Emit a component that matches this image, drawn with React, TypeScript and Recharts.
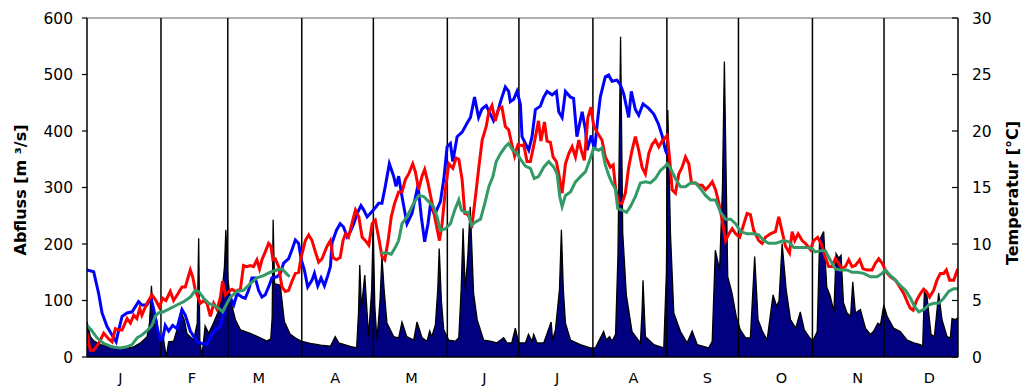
import React from 'react';
import {
  ComposedChart,
  Area,
  Line,
  XAxis,
  YAxis,
  ReferenceLine,
} from 'recharts';

// Tagesabfluss [m³/s] als [Tag, Wert]
const abfluss: [number, number][] = [
  [0, 62], [1.4, 36], [3, 28], [5.6, 22], [9.8, 18], [15.4, 15], [19.6, 18], [22.4, 25], [25.2, 36], [26.2, 60],
  [27, 126], [28, 55], [29.3, 64], [30.4, 28], [32, 34], [33.2, 0], [34.2, 27], [36.3, 28], [37.7, 48], [39.4, 80],
  [40.8, 65], [41.9, 41], [44.7, 30], [46.2, 60], [46.8, 210], [47.3, 27], [48.2, 2], [49.5, 55], [51, 42], [53, 60],
  [55, 80], [56.5, 110], [57.6, 160], [58.2, 225], [59, 140], [60.1, 101], [62.2, 66], [64.3, 48], [68.4, 42], [72.6, 34],
  [75.4, 28], [77, 32], [77.6, 70], [78, 243], [78.6, 130], [81, 127], [82.7, 63], [85.2, 40], [88, 32], [89.7, 28],
  [93.6, 24], [98, 21], [102, 19], [104, 36], [105.5, 25], [110.3, 19], [113, 16], [113.8, 80], [114.3, 163], [115, 86],
  [116.4, 145], [118, 36], [119.3, 120], [119.9, 231], [120.6, 90], [121.5, 30], [122.8, 100], [123.6, 178], [124.5, 120], [125.7, 60],
  [128.5, 36], [130.6, 34], [132, 62], [134, 36], [136.9, 30], [138.3, 62], [140.4, 34], [142.5, 28], [143.6, 46], [144.5, 36],
  [146, 57], [147, 120], [147.6, 192], [148.5, 100], [149.5, 48], [151.6, 30], [154.4, 28], [155.8, 34], [156.8, 120], [157.6, 228],
  [158.5, 119], [159.6, 180], [160.6, 266], [162, 113], [163.5, 66], [166.2, 30], [169, 28], [171.8, 25], [174.6, 34], [176, 25],
  [178, 25], [179.5, 51], [180.9, 25], [183.7, 25], [185, 40], [186.5, 28], [187.2, 40], [188.6, 25], [191.4, 25], [194.5, 62],
  [195.1, 30], [196.3, 48], [198, 120], [198.8, 225], [199.6, 120], [200.5, 60], [202.6, 30], [206.7, 22], [210.9, 16], [213, 16],
  [216.5, 45], [217.6, 30], [219, 36], [220, 28], [221.5, 40], [222.5, 180], [223.6, 567], [224.5, 220], [226, 110], [228.4, 45],
  [231.9, 25], [232.6, 80], [233, 136], [234, 36], [237.5, 22], [241.7, 16], [242.8, 150], [243.4, 437], [244.5, 219], [245.9, 78],
  [248.7, 45], [251.5, 25], [253.6, 46], [255.7, 22], [260.5, 16], [262, 28], [263.3, 189], [265.1, 154], [266.3, 300], [267.1, 523],
  [268.5, 142], [270.3, 113], [272.1, 71], [273.8, 48], [276, 34], [278, 34], [279.8, 178], [281.2, 66], [283, 46], [285, 30],
  [287.5, 110], [289, 90], [290, 99], [291.3, 201], [293, 119], [294.8, 66], [297, 51], [298.9, 80], [300.6, 48], [302.5, 36],
  [304.1, 28], [306, 45], [307, 207], [308.7, 222], [310, 124], [311.5, 107], [313, 80], [313.9, 183], [315, 175], [316, 180],
  [317, 96], [318.5, 78], [320, 72], [320.9, 133], [322, 78], [324.1, 84], [326.2, 51], [328.3, 40], [329.7, 46], [331.4, 60],
  [332.5, 57], [333.9, 92], [335.3, 72], [338, 51], [340.8, 45], [343.7, 30], [346.5, 25], [349.2, 22], [350.2, 19], [350.9, 116],
  [352, 107], [353.7, 40], [355.1, 36], [356.9, 113], [358.3, 66], [360.4, 36], [361.8, 34], [362.5, 68], [363.9, 66], [365, 70],
];

// Temperatur [°C], blaue Kurve
const tempBlau: [number, number][] = [
  [0, 7.7], [2.8, 7.55], [4.9, 5.6], [6.3, 3.9], [8.4, 2.7], [10.5, 1.95], [12.2, 1.35], [13.3, 2.4], [14.7, 3.6], [16.8, 3.9],
  [18.9, 4.0], [21.6, 4.9], [23, 4.6], [25.1, 4.6], [26.8, 5.2], [28, 4.2], [29.3, 2.7], [30.7, 1.5], [31.7, 1.6], [32.8, 2.8],
  [34.2, 2.3], [35.9, 2.8], [37.7, 2.5], [39.8, 4.2], [41.2, 3.7], [43.3, 2.3], [46.1, 1.35], [48.2, 1.2], [50.3, 1.1], [52.1, 1.95],
  [53.8, 2.4], [55.9, 2.7], [57.3, 3.9], [58.7, 4.75], [60, 5.3], [61.5, 4.6], [62.9, 5.6], [65, 5.3], [66.3, 5.2], [67.7, 5.9],
  [69.1, 7.0], [70.5, 7.0], [71.9, 5.9], [73.3, 5.3], [74.7, 5.5], [76.1, 6.2], [77.5, 7.0], [79.6, 7.1], [81, 7.4], [82.4, 8.3],
  [84.5, 8.7], [85.9, 9.5], [87.3, 10.35], [88.7, 10.05], [89.8, 8.6], [91.1, 7.7], [92.5, 6.2], [94.3, 6.8], [95.3, 7.4], [96.7, 6.3],
  [98.1, 7.0], [99.5, 6.3], [100.9, 7.2], [102, 8.0], [102.7, 10.1], [104.5, 11.2], [106.1, 11.8], [107.5, 11.5], [109, 10.65], [110.4, 11.1],
  [111.8, 11.8], [113.2, 12.7], [114.8, 13.4], [116, 13.0], [117.4, 12.4], [118.7, 12.7], [120.8, 13.2], [122.2, 13.6], [123.6, 13.6], [125, 15.1],
  [126.7, 17.1], [128.5, 16.0], [129.5, 15.1], [130.6, 16.0], [132, 14.2], [134.1, 11.8], [136.2, 12.7], [138.7, 15.2], [140.1, 12.4], [141.5, 10.2],
  [142.9, 11.8], [143.9, 13.45], [145.7, 12.6], [148.1, 13.75], [149.5, 15.7], [150.9, 18.6], [152.3, 18.9], [153.3, 17.3], [155.1, 19.5], [157.2, 19.9],
  [159.3, 20.7], [160.7, 21.2], [162.4, 23.0], [164.1, 21.2], [165.5, 21.95], [167.3, 22.25], [169, 21.5], [170.4, 20.9], [171.8, 21.5], [173.6, 22.8],
  [175.3, 23.9], [176.7, 23.5], [177.4, 22.6], [178.8, 22.8], [180.2, 23.5], [181.6, 22.4], [182.3, 19.5], [185.1, 18.3], [186.5, 19.5], [187.9, 21.9],
  [190, 22.2], [191.4, 23.0], [192.8, 23.5], [194.9, 23.2], [196.7, 23.5], [197.7, 21.7], [199.1, 21.2], [200.5, 23.5], [202.6, 23.0], [203.9, 22.9],
  [205.3, 19.5], [207.5, 21.7], [208.9, 20.1], [209.6, 18.3], [211.3, 19.6], [212.7, 18.3], [214.1, 21.2], [215.1, 23.0], [217.2, 24.8], [218.6, 24.95],
  [220, 24.4], [222.1, 24.5], [223.5, 24.1], [224.9, 23.3], [226.3, 21.9], [227, 21.2], [228.1, 23.5], [229.8, 21.9], [231.2, 21.4], [233, 22.4],
  [235.4, 22.0], [237.5, 21.5], [239.5, 20.6], [241, 19.6], [242.4, 18.3], [243.2, 17.9],
];

// Temperatur [°C], rote Kurve
const tempRot: [number, number][] = [
  [0, 2.1], [1.4, 0.6], [2.8, 0.6], [4.9, 1.2], [7, 2.1], [9.1, 1.6], [10.5, 1.35], [11.9, 2.5], [13.3, 2.4], [14.7, 2.4],
  [16.8, 3.4], [18.2, 3.0], [19.6, 3.7], [20.9, 3.4], [22.1, 4.3], [23, 3.7], [25.1, 4.75], [27.2, 5.5], [28.9, 5.0], [30.3, 4.4],
  [31.7, 5.2], [33.1, 5.0], [34.9, 5.8], [36.3, 5.0], [38.1, 5.6], [39.8, 6.2], [41.2, 6.2], [43.3, 7.7], [44.3, 7.1], [45.4, 5.9],
  [47.5, 4.75], [48.9, 5.0], [50.3, 4.75], [51.7, 3.6], [53.1, 4.75], [54.5, 4.2], [55.9, 5.3], [56.8, 6.7], [58, 5.5], [59.4, 5.8],
  [60.8, 6.0], [62.2, 5.8], [64.3, 6.0], [65.6, 8.1], [67, 8.0], [68.4, 8.1], [69.8, 8.0], [71.2, 8.6], [72.3, 7.8], [73.3, 8.6],
  [74.7, 9.3], [76.1, 10.05], [77.1, 9.8], [77.9, 8.6], [78.9, 8.7], [80.3, 8.0], [81.7, 6.2], [83.1, 5.8], [84.5, 5.9], [85.9, 6.7],
  [87.3, 7.4], [88.7, 7.5], [89.7, 8.8], [91.5, 10.3], [92.9, 10.8], [94.3, 10.3], [95.7, 9.3], [97.1, 8.4], [98.5, 8.7], [100.6, 9.8],
  [102, 10.3], [103.1, 8.8], [104.5, 8.6], [106.1, 8.8], [107.3, 10.3], [108.3, 10.9], [109.6, 10.6], [111, 11.8], [112.5, 13.0], [113.9, 12.4],
  [115.3, 10.6], [116.7, 10.3], [118.1, 9.9], [119.5, 11.8], [120.8, 12.1], [122.2, 10.6], [123.6, 8.9], [124.8, 8.6], [126.2, 10.3], [127.5, 12.4],
  [128.9, 13.6], [130.6, 14.6], [132, 14.6], [133.4, 15.7], [134.8, 16.2], [136.5, 17.1], [137.6, 16.4], [139, 14.8], [140.4, 16.0], [141.5, 16.6],
  [142.9, 15.4], [144.6, 13.6], [146, 12.1], [147.7, 10.3], [148.8, 11.8], [150.2, 14.8], [151.6, 17.1], [153.3, 16.7], [154.7, 17.6], [155.8, 17.5],
  [157.2, 15.7], [158.3, 12.7], [159.7, 12.6], [161.4, 11.8], [162.8, 14.2], [164.2, 16.8], [165.6, 19.2], [167.3, 20.4], [168.4, 21.7], [169.7, 22.25],
  [171.1, 20.9], [172.5, 21.95], [173.9, 22.1], [175.3, 20.4], [176.7, 20.1], [177.8, 19.05], [179.2, 17.8], [180.6, 18.8], [182.3, 18.7], [183, 18.8],
  [184.4, 17.3], [185.8, 17.3], [187.4, 18.9], [189.2, 20.9], [190.2, 19.1], [191.7, 20.8], [192.8, 19.1], [194.2, 19.0], [195.3, 17.7], [196.7, 17.3],
  [197.7, 16.2], [199.1, 14.5], [200.5, 17.1], [201.9, 18.0], [203.3, 18.6], [204.7, 17.7], [206.1, 19.2], [207.1, 18.3], [208.4, 17.4], [209.9, 21.2],
  [211.2, 22.1], [212.3, 20.5], [213.7, 19.9], [215.8, 19.2], [217.2, 17.7], [218.2, 17.3], [219.3, 16.8], [220.5, 17.0], [221.4, 15.1], [222.8, 13.6],
  [224.2, 13.6], [225.6, 14.5], [227, 16.8], [228.4, 18.3], [229.8, 19.5], [231.2, 18.3], [232.6, 16.8], [234, 16.2], [235.4, 18.0], [236.8, 18.8],
  [238.2, 19.2], [239.6, 18.6], [241, 19.1], [243.1, 19.6], [244.1, 17.7], [245.2, 14.8], [246.6, 14.5], [248, 16.2], [249.4, 16.8], [250.8, 17.7],
  [252.2, 17.1], [253.3, 15.4], [255, 15.4], [256.4, 15.2], [257.8, 15.2], [259.2, 14.8], [260.6, 15.1], [262, 15.5], [263.4, 14.8], [264.8, 13.6],
  [266.2, 12.1], [267.6, 10.3], [269, 10.9], [270.4, 11.35], [271.8, 10.9], [273.5, 10.6], [275.3, 11.8], [276.6, 12.7], [278, 12.6], [279.4, 11.2],
  [281.5, 10.3], [282.9, 10.05], [284.3, 10.6], [286.4, 10.9], [288.5, 11.1], [289.9, 12.4], [291.3, 11.1], [292.7, 9.8], [294.4, 9.2], [295.5, 11.1],
  [296.6, 10.3], [298, 10.9], [299.7, 10.3], [301.1, 10.05], [303.2, 9.5], [304.5, 10.3], [306.2, 10.6], [307.6, 10.05], [309.4, 8.85], [310.8, 8.0],
  [312.2, 8.0], [313.6, 8.7], [315, 8.3], [316.4, 7.8], [317.8, 8.0], [319.2, 8.6], [320.6, 8.0], [322, 8.1], [323.8, 8.6], [325.2, 7.8],
  [326.9, 7.7], [329, 7.7], [330.4, 8.3], [331.8, 8.7], [333.2, 8.3], [335, 7.5], [336.7, 7.1], [338.8, 6.8], [340.6, 6.2], [342.3, 5.6],
  [344, 4.75], [345.1, 4.3], [346.2, 4.15], [347.6, 5.0], [349.2, 5.6], [350.6, 6.0], [351.7, 5.8], [353.1, 5.3], [354.8, 5.9], [356.2, 6.8],
  [357.6, 7.4], [359, 7.4], [360.1, 7.7], [361.5, 6.8], [363.2, 6.8], [364.9, 7.8],
];

// Temperatur [°C], grüne Kurve (Lücke Ende März bis Anfang Mai)
const tempGruen: [number, number | null][] = [
  [0, 2.8], [2.1, 2.3], [4.2, 1.7], [7, 1.2], [10.5, 0.9], [14, 0.8], [16.8, 0.9], [18.9, 1.1], [21, 1.7], [23, 1.95],
  [25.1, 2.3], [27.2, 2.8], [28.6, 3.6], [30, 3.9], [32, 4.0], [34.9, 4.3], [37.7, 4.6], [40.5, 4.9], [43.3, 5.3], [45.4, 5.9],
  [46.8, 5.8], [48.9, 5.2], [51, 4.75], [53.1, 4.6], [55.2, 4.3], [56.8, 4.0], [58.7, 4.75], [60.1, 5.3], [62.9, 5.8], [65.6, 5.9],
  [68.4, 6.5], [71.2, 7.0], [74, 7.2], [76.8, 7.5], [79.6, 7.7], [81.7, 7.8], [83.5, 7.4], [84.9, 7.1], [100, null],
  [123, 9.2], [125.8, 9.2], [127.5, 9.1], [129.2, 9.7], [130.6, 10.3], [132, 11.8], [133.4, 12.2], [134.8, 12.7], [136.9, 13.6], [139, 14.3],
  [141.1, 14.2], [143.2, 13.75], [145.3, 13.3], [146.7, 12.4], [148.1, 11.2], [150.2, 11.35], [152.3, 11.8], [154.1, 13.0], [155.8, 13.9], [156.9, 13.0],
  [158.3, 12.8], [159.7, 12.8], [161.1, 11.65], [162.8, 11.95], [164.9, 12.2], [166.7, 13.6], [168.4, 15.07], [170.1, 15.96], [171.5, 17.3], [173.3, 18.0],
  [175.3, 18.6], [176.7, 18.9], [178.4, 18.3], [180.2, 18.0], [182.3, 17.3], [183.7, 16.9], [185.8, 16.7], [187.4, 15.8], [189.2, 15.96], [191.4, 16.8],
  [193.5, 17.3], [195.6, 16.8], [197, 16.2], [198.1, 14.2], [199.1, 13.3], [200.5, 14.3], [202.6, 14.6], [204.7, 15.5], [206.8, 15.96], [208.9, 16.4],
  [211, 17.6], [212.3, 18.5], [214.4, 18.3], [215.8, 18.5], [217.2, 17.0], [218.6, 16.1], [220, 15.4], [221.4, 14.9], [222.4, 13.15], [224.2, 13.0],
  [226.1, 12.8], [227.7, 13.3], [229.8, 14.2], [231.9, 15.4], [234, 15.5], [236.1, 15.4], [238.2, 15.8], [240.3, 16.5], [242.4, 16.9], [243.1, 17.1],
  [244.5, 16.7], [246.6, 15.8], [248.7, 15.07], [250.8, 15.07], [252.9, 15.4], [255, 15.4], [257.1, 14.9], [259.2, 14.3], [261.3, 13.9], [263.4, 13.9],
  [265.5, 12.8], [267.6, 12.2], [269.7, 12.2], [271.8, 11.8], [273.9, 11.1], [276.7, 10.9], [279.4, 10.9], [281.5, 10.8], [283.6, 10.3], [285.7, 10.06],
  [288.5, 10.06], [290.6, 10.2], [292, 10.3], [294.1, 10.2], [296.2, 9.7], [298.3, 9.7], [301.1, 9.7], [303.9, 9.6], [305.2, 9.3], [307.3, 9.4],
  [309.4, 9.4], [310.8, 8.85], [312.2, 8.3], [313.6, 7.8], [315.7, 7.7], [318.5, 7.7], [320.6, 7.5], [322.7, 7.5], [325.5, 7.4], [328.3, 7.1],
  [331.1, 7.1], [333.2, 7.4], [334.6, 7.7], [336.7, 7.2], [338.8, 6.8], [340.9, 6.3], [343, 5.9], [345.1, 5.2], [346.8, 4.45], [348.6, 4.0],
  [350.6, 4.2], [352.7, 4.6], [354.8, 4.75], [356.9, 4.75], [359, 5.2], [361.1, 5.8], [363.2, 6.05], [365, 6.05],
];

const monatsEnden = [31, 59, 90, 120, 151, 181, 212, 243, 273, 304, 334];
const monatsLabelTage = [14, 44, 72, 104, 136, 166.5, 197, 229, 260, 291, 323, 353];
const monatsBuchstaben = ['J', 'F', 'M', 'A', 'M', 'J', 'J', 'A', 'S', 'O', 'N', 'D'];
const abflussTicks = [0, 100, 200, 300, 400, 500, 600];
const tempTicks = [0, 5, 10, 15, 20, 25, 30];

const FONT = '"DejaVu Sans", Arial, sans-serif';
const tickStyle = { fontSize: 15.5, fill: '#000', fontFamily: FONT };

const toFlow = (rows: [number, number][]) => rows.map(([d, q]) => ({ d, q }));
const toTemp = (rows: [number, number | null][]) => rows.map(([d, t]) => ({ d, t }));

function AxisTitle({ titleX, titleY, text }: { titleX: number; titleY: number; text: string }) {
  return (
    <text
      x={titleX}
      y={titleY}
      transform={`rotate(-90 ${titleX} ${titleY})`}
      textAnchor="middle"
      dominantBaseline="central"
      fontFamily={FONT}
      fontWeight="bold"
      fontSize={16}
      fill="#000"
    >
      {text}
    </text>
  );
}

export default function App() {
  return (
    <div style={{ position: 'absolute', left: 0, top: 0, background: '#fff' }}>
      <ComposedChart width={1022} height={389} margin={{ top: 18, right: 0, bottom: 0, left: 0 }}>
        <XAxis
          type="number"
          dataKey="d"
          domain={[0, 365]}
          ticks={monatsLabelTage}
          tickFormatter={(_v: number, i: number) => monatsBuchstaben[i]}
          tickLine={false}
          tickSize={6}
          tickMargin={10}
          height={32}
          axisLine={{ stroke: '#000', strokeWidth: 1.5 }}
          tick={{ ...tickStyle, fontSize: 14.5 }}
          allowDataOverflow
        />
        <YAxis
          yAxisId="left"
          orientation="left"
          width={87}
          domain={[0, 600]}
          ticks={abflussTicks}
          tickSize={5}
          tickMargin={9}
          axisLine={{ stroke: '#000', strokeWidth: 1.5 }}
          tickLine={{ stroke: '#000', strokeWidth: 1.2 }}
          tick={tickStyle}
          label={<AxisTitle titleX={20} titleY={190} text="Abfluss [m ³/s]" />}
        />
        <YAxis
          yAxisId="right"
          orientation="right"
          width={64}
          domain={[0, 30]}
          ticks={tempTicks}
          tickSize={-6}
          tickMargin={20}
          axisLine={{ stroke: '#000', strokeWidth: 1.5 }}
          tickLine={{ stroke: '#000', strokeWidth: 1.2 }}
          tick={tickStyle}
          label={<AxisTitle titleX={1012} titleY={193} text="Temperatur [°C]" />}
        />
        <ReferenceLine yAxisId="left" y={600} stroke="#999" strokeWidth={1.5} />
        <Area
          yAxisId="left"
          data={toFlow(abfluss)}
          dataKey="q"
          type="linear"
          fill="#000080"
          fillOpacity={1}
          stroke="#000"
          strokeWidth={1.3}
          isAnimationActive={false}
        />
        {monatsEnden.map((d) => (
          <ReferenceLine key={d} yAxisId="left" x={d} stroke="#000" strokeWidth={1.5} />
        ))}
        <Line
          yAxisId="right"
          data={toTemp(tempBlau)}
          dataKey="t"
          type="linear"
          stroke="#0000ff"
          strokeWidth={3}
          dot={false}
          isAnimationActive={false}
        />
        <Line
          yAxisId="right"
          data={toTemp(tempRot)}
          dataKey="t"
          type="linear"
          stroke="#ff0000"
          strokeWidth={3}
          dot={false}
          isAnimationActive={false}
        />
        <Line
          yAxisId="right"
          data={toTemp(tempGruen)}
          dataKey="t"
          type="linear"
          stroke="#339966"
          strokeWidth={3}
          dot={false}
          isAnimationActive={false}
        />
      </ComposedChart>
    </div>
  );
}
